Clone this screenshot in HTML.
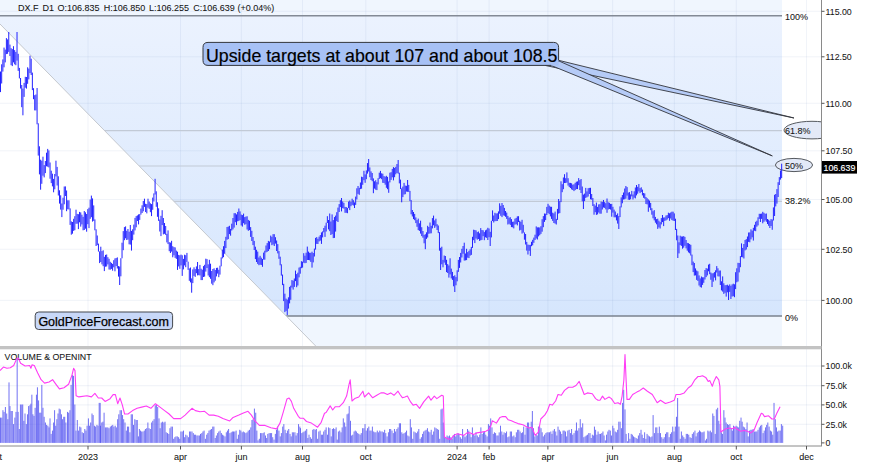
<!DOCTYPE html><html><head><meta charset="utf-8"><style>html,body{margin:0;padding:0;background:#fff;overflow:hidden}svg{display:block}text{font-family:"Liberation Sans",sans-serif}</style></head><body>
<svg width="875" height="465" viewBox="0 0 875 465">
<defs><linearGradient id="fib" x1="0" y1="16" x2="0" y2="316" gradientUnits="userSpaceOnUse"><stop offset="0" stop-color="#ebf2fe"/><stop offset="1" stop-color="#d6e6fd"/></linearGradient><clipPath id="diag"><polygon points="0,0 782,0 782,346 315.7,346 0,24.0"/></clipPath><clipPath id="plot"><rect x="0" y="0" width="821.5" height="346"/></clipPath></defs>
<rect x="0" y="0" width="875" height="465" fill="#fff"/>
<g clip-path="url(#diag)">
<rect x="0" y="0" width="782" height="16" fill="#f0f6fe"/>
<rect x="0" y="16" width="782" height="300" fill="url(#fib)"/>
<rect x="0" y="316" width="782" height="30" fill="#f0f6fe"/>
</g>
<line x1="0" y1="11.3" x2="821" y2="11.3" stroke="#2850a0" stroke-width="1" opacity="0.06"/>
<line x1="0" y1="56.8" x2="821" y2="56.8" stroke="#2850a0" stroke-width="1" opacity="0.06"/>
<line x1="0" y1="103.3" x2="821" y2="103.3" stroke="#2850a0" stroke-width="1" opacity="0.06"/>
<line x1="0" y1="150.8" x2="821" y2="150.8" stroke="#2850a0" stroke-width="1" opacity="0.06"/>
<line x1="0" y1="199.5" x2="821" y2="199.5" stroke="#2850a0" stroke-width="1" opacity="0.06"/>
<line x1="0" y1="249.3" x2="821" y2="249.3" stroke="#2850a0" stroke-width="1" opacity="0.06"/>
<line x1="0" y1="300.4" x2="821" y2="300.4" stroke="#2850a0" stroke-width="1" opacity="0.06"/>
<line x1="88.0" y1="0" x2="88.0" y2="346" stroke="#2850a0" stroke-width="1" opacity="0.06"/>
<line x1="88.0" y1="349" x2="88.0" y2="446" stroke="#2850a0" stroke-width="1" opacity="0.06"/>
<line x1="180.5" y1="0" x2="180.5" y2="346" stroke="#2850a0" stroke-width="1" opacity="0.06"/>
<line x1="180.5" y1="349" x2="180.5" y2="446" stroke="#2850a0" stroke-width="1" opacity="0.06"/>
<line x1="241.4" y1="0" x2="241.4" y2="346" stroke="#2850a0" stroke-width="1" opacity="0.06"/>
<line x1="241.4" y1="349" x2="241.4" y2="446" stroke="#2850a0" stroke-width="1" opacity="0.06"/>
<line x1="302.5" y1="0" x2="302.5" y2="346" stroke="#2850a0" stroke-width="1" opacity="0.06"/>
<line x1="302.5" y1="349" x2="302.5" y2="446" stroke="#2850a0" stroke-width="1" opacity="0.06"/>
<line x1="365.8" y1="0" x2="365.8" y2="346" stroke="#2850a0" stroke-width="1" opacity="0.06"/>
<line x1="365.8" y1="349" x2="365.8" y2="446" stroke="#2850a0" stroke-width="1" opacity="0.06"/>
<line x1="457.1" y1="0" x2="457.1" y2="346" stroke="#2850a0" stroke-width="1" opacity="0.06"/>
<line x1="457.1" y1="349" x2="457.1" y2="446" stroke="#2850a0" stroke-width="1" opacity="0.06"/>
<line x1="489.1" y1="0" x2="489.1" y2="346" stroke="#2850a0" stroke-width="1" opacity="0.06"/>
<line x1="489.1" y1="349" x2="489.1" y2="446" stroke="#2850a0" stroke-width="1" opacity="0.06"/>
<line x1="547.9" y1="0" x2="547.9" y2="346" stroke="#2850a0" stroke-width="1" opacity="0.06"/>
<line x1="547.9" y1="349" x2="547.9" y2="446" stroke="#2850a0" stroke-width="1" opacity="0.06"/>
<line x1="612.6" y1="0" x2="612.6" y2="346" stroke="#2850a0" stroke-width="1" opacity="0.06"/>
<line x1="612.6" y1="349" x2="612.6" y2="446" stroke="#2850a0" stroke-width="1" opacity="0.06"/>
<line x1="674.4" y1="0" x2="674.4" y2="346" stroke="#2850a0" stroke-width="1" opacity="0.06"/>
<line x1="674.4" y1="349" x2="674.4" y2="446" stroke="#2850a0" stroke-width="1" opacity="0.06"/>
<line x1="736.3" y1="0" x2="736.3" y2="346" stroke="#2850a0" stroke-width="1" opacity="0.06"/>
<line x1="736.3" y1="349" x2="736.3" y2="446" stroke="#2850a0" stroke-width="1" opacity="0.06"/>
<line x1="806.5" y1="0" x2="806.5" y2="346" stroke="#2850a0" stroke-width="1" opacity="0.06"/>
<line x1="806.5" y1="349" x2="806.5" y2="446" stroke="#2850a0" stroke-width="1" opacity="0.06"/>
<line x1="0" y1="15.8" x2="782" y2="15.8" stroke="#838a95" stroke-width="1.5" clip-path="url(#diag)"/>
<line x1="0" y1="130.6" x2="782" y2="130.6" stroke="#c2cad6" stroke-width="1.2" clip-path="url(#diag)"/>
<line x1="0" y1="166.0" x2="782" y2="166.0" stroke="#c2cad6" stroke-width="1.2" clip-path="url(#diag)"/>
<line x1="0" y1="201.4" x2="782" y2="201.4" stroke="#c2cad6" stroke-width="1.2" clip-path="url(#diag)"/>
<line x1="0" y1="316.0" x2="782" y2="316.0" stroke="#7a828e" stroke-width="1.6" clip-path="url(#diag)"/>
<line x1="0" y1="24.0" x2="315.7" y2="346" stroke="#c4c8ce" stroke-width="1"/>
<g clip-path="url(#plot)">
<ellipse cx="812" cy="130.1" rx="28" ry="8.8" fill="#e3e9f7" stroke="#55595f" stroke-width="1"/>
<ellipse cx="794" cy="165" rx="18.6" ry="6.6" fill="#e3e9f7" stroke="#55595f" stroke-width="1"/>
</g>
<text x="785" y="20.0" font-size="9" fill="#141414" stroke="#141414" stroke-width="0.06">100%</text>
<text x="785" y="133.6" font-size="9" fill="#141414" stroke="#141414" stroke-width="0.06">61.8%</text>
<text x="785" y="168.6" font-size="9" fill="#141414" stroke="#141414" stroke-width="0.06">50%</text>
<text x="785" y="204.2" font-size="9" fill="#141414" stroke="#141414" stroke-width="0.06">38.2%</text>
<text x="785" y="320.6" font-size="9" fill="#141414" stroke="#141414" stroke-width="0.06">0%</text>
<path d="M0.50 71.5V92.1M1.68 64.3V83.5M2.86 59.4V71.6M4.04 47.6V67.3M5.22 49.6V62.4M6.40 38.1V54.1M7.58 39.4V53.8M8.76 32.0V51.9M9.94 44.6V56.0M11.12 48.2V65.2M12.30 49.1V66.1M13.48 46.2V62.4M14.66 50.1V64.3M15.84 51.9V65.2M17.02 32.0V60.6M18.20 53.8V70.9M19.38 67.9V78.4M20.56 78.0V88.5M21.74 85.0V107.2M22.92 88.6V115.3M24.10 82.9V96.9M25.28 76.8V87.7M26.46 77.0V88.6M27.64 67.3V83.8M28.82 68.6V79.4M30.00 55.7V73.1M31.18 58.7V75.0M32.36 72.6V90.1M33.54 88.2V99.2M34.72 95.2V110.4M35.90 94.5V110.4M37.08 88.0V124.3M38.26 123.3V155.6M39.44 146.3V174.4M40.62 159.7V189.7M41.80 160.7V183.8M42.98 156.7V175.7M44.16 165.1V177.4M45.34 161.0V173.1M46.52 152.7V166.3M47.70 148.9V166.7M48.88 150.4V167.4M50.06 162.5V178.7M51.24 170.7V183.1M52.42 173.7V186.4M53.60 178.9V192.3M54.78 174.0V189.3M55.96 160.7V176.4M57.14 166.9V185.5M58.32 176.3V195.5M59.50 190.3V203.6M60.68 195.3V209.6M61.86 203.5V217.1M63.04 197.7V209.7M64.22 186.5V204.3M65.40 186.4V196.0M66.58 190.5V211.2M67.76 200.3V209.3M68.94 200.3V209.4M70.12 208.4V224.9M71.30 221.4V234.7M72.48 222.0V233.7M73.66 218.8V230.9M74.84 216.2V230.2M76.02 209.7V223.8M77.20 213.9V223.7M78.38 214.2V229.1M79.56 211.9V222.3M80.74 212.4V226.6M81.92 214.7V224.4M83.10 216.8V230.3M84.28 211.0V230.0M85.46 212.3V228.7M86.64 214.0V231.7M87.82 209.1V224.2M89.00 207.7V228.1M90.18 199.5V218.8M91.36 195.6V217.2M92.54 198.4V221.6M93.72 205.4V220.9M94.90 219.4V230.3M96.08 229.3V246.0M97.26 235.5V245.1M98.44 243.6V251.6M99.62 251.4V263.1M100.80 246.7V262.0M101.98 251.1V264.4M103.16 250.3V266.2M104.34 256.8V271.1M105.52 254.9V266.7M106.70 254.5V266.5M107.88 257.2V264.4M109.06 258.8V269.5M110.24 261.8V269.7M111.42 262.9V268.9M112.60 263.9V270.7M113.78 260.2V267.3M114.96 258.4V271.3M116.14 258.0V266.1M117.32 257.4V268.5M118.50 266.1V276.6M119.68 266.5V285.0M120.86 258.2V276.3M122.04 242.7V258.3M123.22 231.1V250.2M124.40 227.1V240.2M125.58 226.4V238.3M126.76 230.8V240.0M127.94 229.0V239.6M129.12 231.7V244.3M130.30 225.0V244.6M131.48 230.9V250.6M132.66 229.3V240.2M133.84 224.6V234.6M135.02 217.9V230.4M136.20 216.1V227.3M137.38 215.4V221.0M138.56 214.4V224.4M139.74 214.1V219.9M140.92 208.6V214.6M142.10 205.3V213.0M143.28 201.0V211.3M144.46 198.7V206.9M145.64 203.8V212.0M146.82 204.1V213.4M148.00 198.7V207.7M149.18 201.5V208.9M150.36 203.3V212.2M151.54 204.1V216.1M152.72 197.6V209.8M153.90 193.4V201.5M155.08 178.8V194.5M156.26 191.3V206.8M157.44 202.3V216.8M158.62 208.3V220.9M159.80 219.5V231.5M160.98 215.8V236.1M162.16 210.2V225.1M163.34 218.0V234.4M164.52 223.0V233.8M165.70 226.0V234.9M166.88 233.8V242.4M168.06 230.4V244.1M169.24 242.2V251.2M170.42 242.6V253.0M171.60 240.8V251.6M172.78 246.2V257.3M173.96 247.1V255.3M175.14 247.4V257.9M176.32 250.6V258.9M177.50 251.7V269.9M178.68 254.9V266.4M179.86 255.3V268.8M181.04 254.6V265.4M182.22 255.3V275.9M183.40 258.9V269.4M184.58 254.7V265.4M185.76 255.2V267.2M186.94 252.9V261.9M188.12 261.7V269.9M189.30 268.4V280.8M190.48 267.5V282.4M191.66 278.4V292.7M192.84 269.4V283.1M194.02 267.3V275.9M195.20 269.1V276.9M196.38 266.4V273.2M197.56 262.0V275.4M198.74 269.1V275.2M199.92 264.9V275.4M201.10 268.7V280.1M202.28 269.7V280.1M203.46 266.1V277.0M204.64 264.8V276.6M205.82 258.7V271.6M207.00 259.1V268.0M208.18 264.3V275.5M209.36 259.8V277.2M210.54 263.7V278.8M211.72 271.0V283.7M212.90 269.0V285.2M214.08 268.3V282.4M215.26 270.0V280.7M216.44 267.9V276.4M217.62 267.7V273.6M218.80 269.8V277.2M219.98 265.7V274.6M221.16 257.4V266.3M222.34 249.6V258.4M223.52 246.2V257.2M224.70 240.9V253.7M225.88 236.8V248.1M227.06 227.0V239.7M228.24 226.6V239.1M229.42 225.8V234.1M230.60 228.9V235.7M231.78 223.7V230.5M232.96 218.0V229.4M234.14 213.2V227.6M235.32 213.2V222.2M236.50 214.4V225.1M237.68 211.9V221.3M238.86 208.5V220.9M240.04 211.4V220.1M241.22 214.6V225.5M242.40 215.1V226.6M243.58 213.6V223.2M244.76 217.1V224.7M245.94 216.6V224.2M247.12 216.3V229.5M248.30 219.9V230.8M249.48 220.8V230.1M250.66 227.1V236.9M251.84 230.8V241.0M253.02 237.0V245.1M254.20 240.9V250.0M255.38 246.7V259.1M256.56 249.8V262.0M257.74 251.6V263.9M258.92 257.5V265.2M260.10 255.8V264.7M261.28 257.7V265.0M262.46 259.0V266.8M263.64 252.6V259.6M264.82 250.7V259.7M266.00 245.5V252.4M267.18 243.1V251.8M268.36 240.9V251.0M269.54 241.5V249.2M270.72 235.6V242.4M271.90 236.8V245.2M273.08 234.2V244.5M274.26 234.2V246.0M275.44 237.2V243.6M276.62 240.5V251.0M277.80 244.1V253.4M278.98 251.1V258.8M280.16 256.7V265.3M281.34 264.3V275.6M282.52 274.6V285.1M283.70 283.8V301.1M284.88 293.7V312.1M286.06 298.6V310.9M287.24 299.6V315.0M288.42 297.3V308.6M289.60 286.9V303.4M290.78 285.7V299.8M291.96 280.1V287.5M293.14 280.7V289.6M294.32 278.5V286.9M295.50 270.6V281.1M296.68 274.1V287.2M297.86 272.7V285.5M299.04 267.6V277.4M300.22 266.8V273.7M301.40 261.2V268.2M302.58 261.7V267.6M303.76 253.2V262.7M304.94 255.7V263.2M306.12 252.7V262.9M307.30 246.6V260.0M308.48 251.6V260.0M309.66 252.8V260.3M310.84 252.8V261.9M312.02 251.7V267.6M313.20 253.0V262.4M314.38 248.6V256.5M315.56 237.9V249.6M316.74 237.1V243.9M317.92 238.8V244.0M319.10 236.6V241.4M320.28 235.0V240.6M321.46 232.4V243.9M322.64 231.4V237.4M323.82 228.0V232.3M325.00 225.7V236.9M326.18 222.7V231.5M327.36 216.2V223.0M328.54 220.0V229.4M329.72 213.5V231.2M330.90 221.5V235.0M332.08 214.4V234.1M333.26 220.1V238.1M334.44 217.1V237.9M335.62 215.6V231.6M336.80 212.2V221.1M337.98 207.6V222.0M339.16 204.1V212.0M340.34 200.2V207.1M341.52 198.0V211.4M342.70 201.5V208.2M343.88 202.8V208.6M345.06 206.9V212.8M346.24 207.1V212.8M347.42 207.9V213.2M348.60 201.6V208.1M349.78 200.5V210.1M350.96 201.9V206.2M352.14 198.7V204.9M353.32 200.2V205.5M354.50 202.4V208.0M355.68 196.6V204.9M356.86 188.3V199.4M358.04 186.0V193.9M359.22 187.8V194.8M360.40 182.5V189.1M361.58 176.7V188.7M362.76 177.1V184.8M363.94 170.8V180.2M365.12 174.4V182.8M366.30 170.4V179.2M367.48 163.1V173.6M368.66 159.0V171.5M369.84 167.4V177.2M371.02 171.4V180.0M372.20 173.0V181.2M373.38 178.4V193.2M374.56 181.3V188.6M375.74 180.2V189.7M376.92 182.2V190.1M378.10 178.2V184.4M379.28 172.7V178.9M380.46 170.9V178.2M381.64 173.3V179.2M382.82 173.7V182.8M384.00 176.1V183.0M385.18 176.7V184.7M386.36 175.8V187.8M387.54 176.9V189.2M388.72 181.4V192.8M389.90 172.7V182.4M391.08 172.2V179.9M392.26 168.9V177.3M393.44 167.1V180.4M394.62 167.9V177.2M395.80 166.9V174.3M396.98 164.0V173.0M398.16 160.0V173.7M399.34 172.7V183.4M400.52 179.6V189.0M401.70 188.4V202.3M402.88 186.6V197.1M404.06 182.9V194.5M405.24 185.6V194.2M406.42 185.8V191.6M407.60 180.0V191.8M408.78 184.9V191.9M409.96 190.9V201.1M411.14 200.1V214.3M412.32 210.0V216.5M413.50 212.0V219.1M414.68 213.9V220.2M415.86 217.4V223.1M417.04 220.1V226.8M418.22 218.6V230.1M419.40 223.3V230.9M420.58 220.7V233.6M421.76 227.2V236.1M422.94 231.0V237.7M424.12 234.9V243.3M425.30 234.2V249.2M426.48 232.3V238.9M427.66 225.8V237.5M428.84 227.0V233.8M430.02 222.5V233.4M431.20 225.8V233.3M432.38 218.1V228.4M433.56 215.6V225.3M434.74 220.4V227.9M435.92 218.7V226.4M437.10 224.2V230.0M438.28 225.5V233.1M439.46 232.1V250.7M440.64 247.8V270.0M441.82 246.7V264.3M443.00 259.9V267.3M444.18 255.5V262.6M445.36 256.0V264.9M446.54 259.8V272.1M447.72 264.1V273.0M448.90 265.5V277.6M450.08 258.3V274.4M451.26 268.6V278.4M452.44 271.9V279.9M453.62 276.1V286.3M454.80 275.3V292.0M455.98 277.1V285.3M457.16 270.3V281.3M458.34 259.9V271.9M459.52 257.0V267.9M460.70 252.9V262.5M461.88 248.8V257.5M463.06 246.0V253.7M464.24 242.7V260.6M465.42 253.5V260.4M466.60 248.8V260.1M467.78 252.1V257.7M468.96 250.8V258.1M470.14 249.3V255.6M471.32 246.9V254.9M472.50 236.8V247.9M473.68 229.7V240.2M474.86 230.0V243.1M476.04 230.4V238.5M477.22 232.1V239.7M478.40 231.5V239.0M479.58 233.3V240.9M480.76 228.1V240.3M481.94 230.0V239.9M483.12 230.3V236.2M484.30 232.1V240.2M485.48 230.3V237.3M486.66 229.6V237.9M487.84 227.8V240.0M489.02 228.5V237.2M490.20 231.8V246.0M491.38 220.8V237.4M492.56 210.4V221.0M493.74 215.5V222.5M494.92 212.8V221.2M496.10 213.5V221.1M497.28 213.3V221.0M498.46 211.4V219.1M499.64 203.3V213.7M500.82 205.8V215.8M502.00 203.0V217.1M503.18 205.0V215.4M504.36 207.9V215.8M505.54 211.0V216.8M506.72 212.6V218.9M507.90 215.9V224.5M509.08 217.7V223.8M510.26 217.2V224.9M511.44 219.1V227.1M512.62 221.8V227.3M513.80 221.6V228.4M514.98 218.7V224.6M516.16 217.9V224.2M517.34 216.3V225.4M518.52 216.2V222.0M519.70 220.8V230.5M520.88 221.8V229.9M522.06 219.8V233.6M523.24 224.8V232.7M524.42 232.4V239.7M525.60 234.0V244.5M526.78 241.9V250.6M527.96 244.6V254.5M529.14 244.9V250.8M530.32 244.8V255.9M531.50 241.8V246.2M532.68 239.8V245.3M533.86 237.6V242.8M535.04 234.7V240.0M536.22 226.4V238.5M537.40 227.4V239.5M538.58 227.3V236.4M539.76 227.5V235.2M540.94 226.2V233.9M542.12 219.2V231.7M543.30 216.1V227.2M544.48 213.5V221.9M545.66 213.7V220.1M546.84 206.9V215.0M548.02 203.8V213.1M549.20 205.6V214.2M550.38 206.7V216.4M551.56 206.8V218.9M552.74 212.7V220.9M553.92 213.4V223.0M555.10 211.6V223.6M556.28 218.9V224.5M557.46 208.9V219.9M558.64 199.0V213.6M559.82 201.1V213.1M561.00 181.3V202.1M562.18 184.2V192.2M563.36 177.5V189.2M564.54 174.2V183.0M565.72 178.2V183.0M566.90 172.4V182.6M568.08 178.2V185.6M569.26 182.8V187.1M570.44 182.9V188.0M571.62 183.3V189.4M572.80 184.7V190.0M573.98 184.3V191.1M575.16 182.8V190.1M576.34 181.7V189.1M577.52 181.4V189.1M578.70 178.1V185.2M579.88 180.1V190.0M581.06 179.0V193.0M582.24 186.5V201.3M583.42 194.6V209.0M584.60 193.6V201.1M585.78 187.9V197.9M586.96 191.4V197.3M588.14 188.2V196.5M589.32 187.9V194.0M590.50 187.8V199.3M591.68 194.0V199.7M592.86 198.0V206.0M594.04 204.2V214.7M595.22 205.6V212.2M596.40 202.6V214.9M597.58 206.9V214.4M598.76 204.4V212.5M599.94 204.2V213.7M601.12 201.6V213.7M602.30 201.9V209.5M603.48 200.0V207.5M604.66 202.1V207.9M605.84 203.2V209.4M607.02 198.5V212.8M608.20 202.3V209.5M609.38 202.8V209.0M610.56 203.9V209.6M611.74 203.9V216.7M612.92 206.8V212.6M614.10 209.6V217.3M615.28 211.5V217.3M616.46 214.9V220.4M617.64 213.4V223.6M618.82 216.1V229.0M620.00 206.4V217.1M621.18 197.4V207.4M622.36 195.0V203.3M623.54 192.5V199.5M624.72 188.5V199.3M625.90 186.0V198.7M627.08 187.1V195.6M628.26 192.6V199.7M629.44 192.1V199.9M630.62 194.4V199.3M631.80 190.9V196.4M632.98 194.5V199.5M634.16 191.3V197.7M635.34 187.5V198.4M636.52 185.0V195.4M637.70 186.8V193.7M638.88 184.0V191.4M640.06 188.1V193.1M641.24 187.3V192.0M642.42 189.6V195.4M643.60 193.0V197.8M644.78 193.4V198.7M645.96 197.0V204.0M647.14 198.2V204.4M648.32 199.4V211.8M649.50 200.6V207.6M650.68 202.9V210.2M651.86 208.2V214.7M653.04 211.2V218.3M654.22 210.1V220.4M655.40 216.9V222.7M656.58 219.1V224.3M657.76 218.7V228.9M658.94 220.7V227.4M660.12 222.1V228.5M661.30 218.1V224.4M662.48 215.0V222.1M663.66 217.5V226.1M664.84 217.4V220.9M666.02 215.5V220.4M667.20 215.1V219.5M668.38 212.7V218.1M669.56 213.3V220.8M670.74 212.5V218.5M671.92 211.7V220.1M673.10 211.7V220.7M674.28 213.4V221.0M675.46 218.7V230.0M676.64 228.9V240.3M677.82 235.5V258.0M679.00 242.3V253.4M680.18 235.7V245.1M681.36 236.5V245.9M682.54 236.5V248.7M683.72 236.1V247.7M684.90 236.9V245.8M686.08 240.0V248.4M687.26 242.9V250.7M688.44 243.2V252.4M689.62 244.0V253.3M690.80 244.8V255.5M691.98 254.6V265.2M693.16 261.6V272.1M694.34 263.0V275.6M695.52 268.4V275.4M696.70 270.5V279.9M697.88 271.3V280.9M699.06 275.4V285.5M700.24 278.4V287.1M701.42 276.5V287.6M702.60 277.3V284.9M703.78 277.3V282.8M704.96 270.0V279.5M706.14 268.1V277.1M707.32 268.6V275.4M708.50 264.6V271.3M709.68 263.8V274.2M710.86 272.5V279.8M712.04 273.4V287.0M713.22 273.2V281.7M714.40 272.1V277.6M715.58 270.3V280.4M716.76 266.1V272.5M717.94 268.3V276.3M719.12 270.6V276.5M720.30 270.5V285.0M721.48 281.3V290.4M722.66 276.4V291.6M723.84 283.3V293.9M725.02 285.2V292.8M726.20 285.1V296.6M727.38 284.7V292.3M728.56 285.7V300.0M729.74 284.4V291.9M730.92 285.8V299.0M732.10 284.4V296.5M733.28 283.7V296.2M734.46 284.3V297.2M735.64 272.2V289.1M736.82 268.3V282.3M738.00 262.8V281.5M739.18 263.0V272.4M740.36 256.1V267.2M741.54 243.4V257.1M742.72 247.9V257.3M743.90 244.0V258.5M745.08 240.0V250.4M746.26 239.1V249.5M747.44 236.5V247.1M748.62 232.5V241.9M749.80 232.4V242.3M750.98 229.3V239.4M752.16 230.6V237.3M753.34 227.8V240.6M754.52 224.8V230.7M755.70 221.8V231.2M756.88 220.7V226.7M758.06 217.3V225.4M759.24 213.8V218.9M760.42 213.8V222.0M761.60 213.6V218.9M762.78 211.8V223.3M763.96 212.8V221.8M765.14 213.8V220.4M766.32 213.5V221.8M767.50 219.0V224.0M768.68 219.7V225.8M769.86 220.9V228.0M771.04 219.1V226.0M772.22 219.5V229.8M773.40 207.4V220.5M774.58 194.8V216.0M775.76 194.0V206.4M776.94 189.1V203.6M778.12 182.2V197.0M779.30 177.1V185.0M780.48 170.5V179.6M781.66 163.7V178.1" stroke="#2222ff" stroke-width="1.0" fill="none"/>
<text x="17.9" y="10.7" font-size="9" fill="#141414" stroke="#141414" stroke-width="0.06">DX.F</text>
<text x="42.4" y="10.7" font-size="9" fill="#141414" stroke="#141414" stroke-width="0.06">D1</text>
<text x="57.6" y="10.7" font-size="9" fill="#141414" stroke="#141414" stroke-width="0.06">O:106.835</text>
<text x="103.7" y="10.7" font-size="9" fill="#141414" stroke="#141414" stroke-width="0.06">H:106.850</text>
<text x="149" y="10.7" font-size="9" fill="#141414" stroke="#141414" stroke-width="0.06">L:106.255</text>
<text x="193.3" y="10.7" font-size="9" fill="#141414" stroke="#141414" stroke-width="0.06">C:106.639</text>
<text x="237.4" y="10.7" font-size="9" fill="#141414" stroke="#141414" stroke-width="0.06">(+0.04%)</text>
<polygon points="558.6,60.3 794,118 545,65.4" fill="#b5cbf7" stroke="#33363c" stroke-width="0.9"/>
<polygon points="559,61 772.3,155.9 551,65.4" fill="#b5cbf7" stroke="#33363c" stroke-width="0.9"/>
<path d="M208,42.4 H553.6 Q558.6,42.4 558.6,47.4 V65.4 H208 Q203,65.4 203,60.4 V47.4 Q203,42.4 208,42.4 Z" fill="#a7c1f5"/>
<path d="M551,65.4 H208 Q203,65.4 203,60.4 V47.4 Q203,42.4 208,42.4 H553.6 Q558.6,42.4 558.6,47.4 V60.3" fill="none" stroke="#33363c" stroke-width="1"/>
<text x="206" y="61.7" font-size="17.75" fill="#000" stroke="#000" stroke-width="0.18">Upside targets at about 107 and about 108.5</text>
<rect x="35.2" y="312" width="137.4" height="17.5" rx="3.5" fill="#c8d8f8" stroke="#45484e" stroke-width="1"/>
<text x="38.4" y="326.2" font-size="12.5" fill="#000" stroke="#000" stroke-width="0.25">GoldPriceForecast.com</text>
<rect x="822" y="0" width="53" height="465" fill="#fff"/>
<line x1="821.5" y1="0" x2="821.5" y2="446" stroke="#8a8a8a" stroke-width="1"/>
<line x1="821.5" y1="11.3" x2="824.5" y2="11.3" stroke="#555" stroke-width="1"/>
<text x="825.5" y="14.6" font-size="8.8" fill="#141414" stroke="#141414" stroke-width="0.06">115.00</text>
<line x1="821.5" y1="56.8" x2="824.5" y2="56.8" stroke="#555" stroke-width="1"/>
<text x="825.5" y="60.0" font-size="8.8" fill="#141414" stroke="#141414" stroke-width="0.06">112.50</text>
<line x1="821.5" y1="103.3" x2="824.5" y2="103.3" stroke="#555" stroke-width="1"/>
<text x="825.5" y="106.5" font-size="8.8" fill="#141414" stroke="#141414" stroke-width="0.06">110.00</text>
<line x1="821.5" y1="150.8" x2="824.5" y2="150.8" stroke="#555" stroke-width="1"/>
<text x="825.5" y="154.0" font-size="8.8" fill="#141414" stroke="#141414" stroke-width="0.06">107.50</text>
<line x1="821.5" y1="199.5" x2="824.5" y2="199.5" stroke="#555" stroke-width="1"/>
<text x="825.5" y="202.7" font-size="8.8" fill="#141414" stroke="#141414" stroke-width="0.06">105.00</text>
<line x1="821.5" y1="249.3" x2="824.5" y2="249.3" stroke="#555" stroke-width="1"/>
<text x="825.5" y="252.5" font-size="8.8" fill="#141414" stroke="#141414" stroke-width="0.06">102.50</text>
<line x1="821.5" y1="300.4" x2="824.5" y2="300.4" stroke="#555" stroke-width="1"/>
<text x="825.5" y="303.6" font-size="8.8" fill="#141414" stroke="#141414" stroke-width="0.06">100.00</text>
<rect x="822" y="161" width="35" height="12.6" fill="#000"/>
<text x="823.5" y="170.9" font-size="8.8" fill="#fff" stroke="#fff" stroke-width="0.15">106.639</text>
<rect x="0" y="346" width="821.5" height="3.3" fill="#c3c3c3"/>
<line x1="0" y1="366" x2="821" y2="366" stroke="#2850a0" stroke-width="1" opacity="0.07"/>
<line x1="0" y1="385.7" x2="821" y2="385.7" stroke="#2850a0" stroke-width="1" opacity="0.07"/>
<line x1="0" y1="404.9" x2="821" y2="404.9" stroke="#2850a0" stroke-width="1" opacity="0.07"/>
<line x1="0" y1="424.3" x2="821" y2="424.3" stroke="#2850a0" stroke-width="1" opacity="0.07"/>
<text x="4.6" y="360" font-size="8.8" fill="#141414" stroke="#141414" stroke-width="0.06">VOLUME &amp; OPENINT</text>
<path d="M0.50 442.9V417.6M1.81 442.9V417.6M2.95 442.9V410.2M4.09 442.9V411.9M5.40 442.9V407.0M6.71 442.9V413.5M7.85 442.9V419.2M9.00 442.9V382.4M9.98 442.9V406.1M11.12 442.9V411.0M12.26 442.9V411.0M13.57 442.9V424.1M14.88 442.9V417.6M16.02 442.9V411.9M17.17 442.9V357.9M18.15 442.9V411.9M19.29 442.9V429.0M20.43 442.9V404.5M21.74 442.9V404.5M22.72 442.9V404.5M23.87 442.9V420.8M25.01 442.9V413.5M26.32 442.9V424.1M27.46 442.9V414.3M28.60 442.9V406.1M29.91 442.9V405.3M30.89 442.9V403.7M31.87 442.9V394.7M32.85 442.9V414.3M34.00 442.9V415.9M35.14 442.9V407.8M36.45 442.9V394.7M37.43 442.9V387.3M38.57 442.9V400.4M39.72 442.9V412.7M40.86 442.9V412.7M41.84 442.9V384.9M42.98 442.9V407.8M44.13 442.9V416.8M45.43 442.9V422.5M46.58 442.9V424.9M47.89 442.9V425.7M49.03 442.9V427.4M50.01 442.9V418.4M51.15 442.9V433.9M52.46 442.9V430.6M53.60 442.9V422.5M54.58 442.9V410.2M55.73 442.9V425.7M56.87 442.9V419.2M58.02 442.9V413.5M59.16 442.9V408.6M60.30 442.9V409.4M61.45 442.9V414.3M62.59 442.9V419.2M63.74 442.9V416.8M64.72 442.9V416.8M65.86 442.9V422.5M67.49 442.9V411.9M68.64 442.9V412.7M69.94 442.9V410.2M71.09 442.9V384.9M72.40 442.9V375.1M73.54 442.9V375.9M74.85 442.9V404.5M75.99 442.9V430.6M77.30 442.9V420.0M78.60 442.9V430.6M79.75 442.9V426.6M80.89 442.9V427.4M82.20 442.9V432.3M83.51 442.9V433.1M84.81 442.9V429.0M85.96 442.9V430.6M87.10 442.9V425.7M88.41 442.9V418.4M89.55 442.9V425.7M90.70 442.9V422.5M92.00 442.9V413.5M93.15 442.9V415.1M94.45 442.9V425.7M95.60 442.9V426.6M96.91 442.9V424.9M98.05 442.9V425.7M99.19 442.9V402.9M100.17 442.9V402.9M100.50 442.9V425.7M101.81 442.9V422.5M102.95 442.9V421.7M104.09 442.9V412.7M105.40 442.9V427.4M106.71 442.9V427.4M107.85 442.9V427.4M109.00 442.9V428.2M110.30 442.9V426.6M111.45 442.9V425.7M112.75 442.9V424.9M113.90 442.9V426.6M115.21 442.9V425.7M116.35 442.9V427.4M117.66 442.9V419.2M118.80 442.9V414.3M120.11 442.9V410.2M121.42 442.9V410.2M122.56 442.9V415.1M123.70 442.9V419.2M125.01 442.9V422.5M126.32 442.9V430.6M127.46 442.9V426.6M128.60 442.9V426.6M129.91 442.9V432.3M131.22 442.9V414.3M132.36 442.9V414.3M133.51 442.9V424.9M134.81 442.9V419.2M136.12 442.9V420.0M137.26 442.9V420.0M138.41 442.9V436.4M139.39 442.9V429.0M140.53 442.9V430.6M141.68 442.9V431.5M142.98 442.9V431.5M144.29 442.9V430.6M145.43 442.9V429.0M146.74 442.9V428.2M147.89 442.9V422.5M149.03 442.9V428.2M150.34 442.9V429.0M151.64 442.9V422.5M152.79 442.9V420.8M154.09 442.9V419.2M155.24 442.9V405.3M156.38 442.9V404.5M157.69 442.9V407.0M159.00 442.9V418.4M160.14 442.9V428.2M161.28 442.9V422.5M162.59 442.9V421.7M163.90 442.9V422.5M165.04 442.9V421.7M166.19 442.9V432.3M167.49 442.9V433.1M168.80 442.9V433.9M169.94 442.9V428.2M171.09 442.9V426.6M172.40 442.9V426.6M173.70 442.9V438.8M174.85 442.9V437.2M175.99 442.9V436.4M177.30 442.9V436.4M178.60 442.9V437.2M179.75 442.9V438.8M180.89 442.9V431.5M182.20 442.9V431.5M183.51 442.9V430.6M184.65 442.9V437.2M185.79 442.9V434.7M187.10 442.9V435.5M188.41 442.9V437.2M189.55 442.9V431.5M190.70 442.9V431.5M192.00 442.9V431.5M193.31 442.9V433.1M194.45 442.9V434.7M195.60 442.9V434.7M196.91 442.9V435.5M198.05 442.9V435.5M199.36 442.9V435.5M200.50 442.9V433.9M201.81 442.9V433.1M202.95 442.9V431.5M204.09 442.9V430.6M205.40 442.9V438.8M206.71 442.9V434.7M207.85 442.9V433.1M209.00 442.9V430.6M210.30 442.9V429.8M211.45 442.9V429.0M212.75 442.9V426.6M213.90 442.9V426.6M215.21 442.9V438.0M216.35 442.9V435.5M217.66 442.9V433.1M218.80 442.9V431.5M220.11 442.9V430.6M221.42 442.9V433.1M222.56 442.9V434.7M223.70 442.9V435.5M225.01 442.9V436.4M226.32 442.9V432.3M227.46 442.9V430.6M228.60 442.9V429.0M229.91 442.9V433.1M231.22 442.9V432.3M232.36 442.9V431.5M233.51 442.9V431.5M234.81 442.9V431.5M236.12 442.9V430.6M237.26 442.9V438.8M238.41 442.9V434.7M239.72 442.9V429.8M240.86 442.9V430.6M242.17 442.9V432.3M243.31 442.9V431.5M244.62 442.9V432.3M245.92 442.9V433.1M247.07 442.9V432.3M248.21 442.9V430.6M249.52 442.9V429.8M250.83 442.9V427.4M251.97 442.9V420.0M253.11 442.9V419.2M254.42 442.9V408.6M255.73 442.9V412.7M256.87 442.9V430.6M258.02 442.9V440.4M259.32 442.9V438.8M260.47 442.9V433.1M261.77 442.9V433.1M263.08 442.9V433.1M264.23 442.9V432.3M265.53 442.9V435.5M266.68 442.9V438.0M267.82 442.9V433.9M269.13 442.9V433.1M270.43 442.9V433.1M271.58 442.9V433.1M272.72 442.9V437.2M274.03 442.9V439.6M275.34 442.9V433.9M276.48 442.9V429.8M277.62 442.9V426.6M278.93 442.9V430.6M280.24 442.9V436.4M281.38 442.9V433.1M282.69 442.9V426.6M283.83 442.9V424.1M285.14 442.9V429.8M286.28 442.9V433.1M287.43 442.9V430.6M288.74 442.9V429.0M290.04 442.9V433.9M291.19 442.9V436.4M292.33 442.9V432.3M293.64 442.9V432.3M294.94 442.9V432.3M296.09 442.9V435.5M297.23 442.9V433.1M298.54 442.9V424.1M299.85 442.9V426.6M300.50 442.9V428.2M301.81 442.9V433.1M302.95 442.9V432.3M304.09 442.9V431.5M305.40 442.9V430.6M306.71 442.9V429.0M307.85 442.9V438.0M309.00 442.9V434.7M310.30 442.9V437.2M311.45 442.9V438.8M312.75 442.9V429.8M313.90 442.9V429.0M315.21 442.9V429.8M316.35 442.9V429.0M317.66 442.9V438.8M318.80 442.9V431.5M320.11 442.9V430.6M321.42 442.9V434.7M322.56 442.9V434.7M323.70 442.9V431.5M325.01 442.9V429.8M326.15 442.9V427.4M327.46 442.9V434.7M328.60 442.9V427.4M329.91 442.9V428.2M331.22 442.9V436.4M332.36 442.9V429.0M333.51 442.9V428.2M334.81 442.9V429.0M336.12 442.9V427.4M337.26 442.9V439.6M338.41 442.9V431.5M339.72 442.9V430.6M341.02 442.9V432.3M342.17 442.9V427.4M343.31 442.9V418.4M344.62 442.9V422.5M345.76 442.9V426.6M347.07 442.9V414.3M348.21 442.9V413.5M349.19 442.9V406.1M350.50 442.9V420.8M351.64 442.9V435.5M352.79 442.9V434.7M354.09 442.9V431.5M355.24 442.9V430.6M356.38 442.9V431.5M357.69 442.9V433.1M358.83 442.9V433.9M360.14 442.9V434.7M361.28 442.9V433.1M362.59 442.9V428.2M363.90 442.9V428.2M365.04 442.9V424.1M366.19 442.9V430.6M367.49 442.9V428.2M368.80 442.9V426.6M369.94 442.9V430.6M371.09 442.9V430.6M372.40 442.9V426.6M373.70 442.9V431.5M374.85 442.9V432.3M375.99 442.9V432.3M377.30 442.9V430.6M378.60 442.9V432.3M379.75 442.9V430.6M380.89 442.9V431.5M382.20 442.9V431.5M383.51 442.9V432.3M384.65 442.9V429.8M385.79 442.9V433.1M387.10 442.9V436.4M388.41 442.9V432.3M389.55 442.9V429.0M390.70 442.9V429.0M392.00 442.9V430.6M393.31 442.9V433.1M394.45 442.9V429.0M395.60 442.9V431.5M396.91 442.9V429.0M398.05 442.9V427.4M399.36 442.9V423.3M400.50 442.9V423.3M401.81 442.9V432.3M402.95 442.9V433.9M404.09 442.9V433.1M405.40 442.9V432.3M406.55 442.9V430.6M407.85 442.9V435.5M409.00 442.9V436.4M410.30 442.9V419.2M411.45 442.9V427.4M412.75 442.9V438.8M413.90 442.9V431.5M415.21 442.9V432.3M416.35 442.9V433.1M417.66 442.9V431.5M418.80 442.9V429.0M420.11 442.9V438.8M421.42 442.9V437.2M422.56 442.9V433.9M423.70 442.9V431.5M425.01 442.9V430.6M426.15 442.9V429.8M427.46 442.9V428.2M428.60 442.9V431.5M429.91 442.9V432.3M431.22 442.9V429.8M432.36 442.9V434.7M433.67 442.9V431.5M434.81 442.9V427.4M436.12 442.9V428.2M437.26 442.9V429.0M438.41 442.9V429.8M439.72 442.9V438.8M441.02 442.9V409.4M442.17 442.9V408.6M443.31 442.9V422.5M444.62 442.9V437.2M445.92 442.9V438.0M447.07 442.9V435.5M448.21 442.9V436.4M449.52 442.9V435.5M450.83 442.9V437.2M451.97 442.9V438.8M453.11 442.9V435.5M454.42 442.9V433.9M455.73 442.9V436.4M456.87 442.9V434.7M458.02 442.9V433.1M459.00 442.9V433.9M460.30 442.9V437.2M461.28 442.9V438.8M462.59 442.9V429.0M463.90 442.9V435.5M465.04 442.9V437.2M466.19 442.9V435.5M467.49 442.9V429.0M468.80 442.9V430.6M469.94 442.9V433.9M471.09 442.9V437.2M472.40 442.9V427.4M473.70 442.9V434.7M474.85 442.9V435.5M475.99 442.9V432.3M477.30 442.9V435.5M478.60 442.9V437.2M479.75 442.9V434.7M480.89 442.9V427.4M482.20 442.9V433.9M483.51 442.9V432.3M484.65 442.9V431.5M485.79 442.9V434.7M487.10 442.9V436.4M488.41 442.9V424.1M489.55 442.9V425.7M490.70 442.9V418.4M492.00 442.9V427.4M493.31 442.9V433.9M494.45 442.9V432.3M495.60 442.9V433.1M496.91 442.9V435.5M498.05 442.9V435.5M499.20 442.9V432.4M500.50 442.9V425.7M501.81 442.9V431.5M502.95 442.9V434.7M504.09 442.9V432.3M505.40 442.9V433.1M506.55 442.9V431.5M507.85 442.9V437.2M509.00 442.9V436.4M510.30 442.9V431.5M511.45 442.9V431.5M512.75 442.9V436.4M513.90 442.9V435.5M515.21 442.9V437.2M516.35 442.9V432.3M517.66 442.9V429.8M518.80 442.9V429.8M520.11 442.9V431.5M521.42 442.9V433.1M522.56 442.9V432.3M523.70 442.9V426.6M525.01 442.9V434.7M526.15 442.9V427.4M527.46 442.9V422.5M528.60 442.9V422.5M529.91 442.9V427.4M531.22 442.9V421.7M532.36 442.9V411.0M533.51 442.9V428.2M534.81 442.9V436.4M536.12 442.9V434.7M537.26 442.9V435.5M538.41 442.9V426.6M539.72 442.9V426.6M541.02 442.9V428.2M542.17 442.9V432.3M543.31 442.9V436.4M544.62 442.9V434.7M545.92 442.9V433.1M547.07 442.9V432.3M548.21 442.9V432.3M549.52 442.9V432.3M550.83 442.9V431.5M551.97 442.9V433.9M553.11 442.9V430.6M554.42 442.9V429.0M555.73 442.9V431.5M556.87 442.9V435.5M558.02 442.9V426.6M559.32 442.9V429.8M560.47 442.9V431.5M561.77 442.9V433.9M563.08 442.9V430.6M564.23 442.9V430.6M565.53 442.9V431.5M566.68 442.9V436.4M567.82 442.9V430.6M569.13 442.9V429.8M570.43 442.9V433.1M571.58 442.9V429.0M572.72 442.9V434.7M574.03 442.9V433.1M575.34 442.9V430.6M576.48 442.9V422.5M577.62 442.9V430.6M578.93 442.9V428.2M580.24 442.9V419.2M581.38 442.9V427.4M582.69 442.9V423.3M583.83 442.9V437.2M585.14 442.9V436.4M586.28 442.9V435.5M587.43 442.9V434.7M588.74 442.9V433.1M590.04 442.9V433.1M591.19 442.9V438.0M592.33 442.9V434.7M593.64 442.9V435.5M594.45 442.9V426.6M595.60 442.9V429.8M596.91 442.9V434.7M598.05 442.9V431.5M599.20 442.9V433.9M600.50 442.9V433.9M601.81 442.9V433.1M602.95 442.9V431.5M604.09 442.9V435.5M605.40 442.9V440.4M606.55 442.9V434.7M607.85 442.9V431.5M609.00 442.9V429.8M610.30 442.9V430.6M611.45 442.9V435.5M612.75 442.9V425.7M613.90 442.9V428.2M615.21 442.9V431.5M616.35 442.9V432.3M617.66 442.9V429.8M618.80 442.9V421.7M620.11 442.9V421.7M621.42 442.9V428.2M622.56 442.9V402.9M623.70 442.9V389.8M625.01 442.9V409.4M626.15 442.9V433.9M627.46 442.9V441.3M628.60 442.9V433.1M629.91 442.9V438.8M631.22 442.9V433.9M632.36 442.9V434.7M633.51 442.9V436.4M634.81 442.9V437.2M636.12 442.9V438.0M637.26 442.9V438.8M638.41 442.9V435.5M639.72 442.9V433.1M641.02 442.9V429.8M642.17 442.9V434.7M643.31 442.9V438.0M644.62 442.9V432.3M645.92 442.9V438.8M647.07 442.9V433.9M648.21 442.9V435.5M649.52 442.9V436.4M650.83 442.9V437.2M651.97 442.9V436.4M653.11 442.9V415.1M654.42 442.9V433.1M655.73 442.9V427.4M656.87 442.9V427.4M658.02 442.9V433.1M659.32 442.9V426.6M660.47 442.9V433.1M661.77 442.9V437.2M663.08 442.9V438.8M664.23 442.9V437.2M665.53 442.9V433.9M666.68 442.9V432.3M667.82 442.9V432.3M669.13 442.9V437.2M670.43 442.9V433.9M671.58 442.9V432.3M672.72 442.9V426.6M674.03 442.9V431.5M675.34 442.9V426.6M676.48 442.9V416.8M677.62 442.9V398.0M678.93 442.9V426.6M680.24 442.9V438.8M681.38 442.9V431.5M682.69 442.9V435.5M683.83 442.9V437.2M685.14 442.9V438.8M686.28 442.9V433.9M687.43 442.9V433.9M688.74 442.9V434.7M690.04 442.9V437.2M691.19 442.9V438.0M692.33 442.9V433.9M693.64 442.9V432.3M694.94 442.9V430.6M696.09 442.9V436.4M697.23 442.9V433.1M698.30 442.9V431.9M699.50 442.9V430.4M700.50 442.9V431.5M701.81 442.9V432.3M702.95 442.9V432.3M704.09 442.9V431.5M705.40 442.9V440.4M706.55 442.9V438.8M707.85 442.9V430.6M709.00 442.9V431.5M710.30 442.9V430.6M711.45 442.9V432.3M712.75 442.9V413.5M713.90 442.9V415.9M715.21 442.9V433.9M716.35 442.9V409.4M717.66 442.9V407.8M718.80 442.9V420.8M720.11 442.9V424.1M721.42 442.9V432.3M722.56 442.9V433.9M723.87 442.9V410.2M725.01 442.9V417.6M726.15 442.9V422.5M727.46 442.9V424.1M728.60 442.9V424.9M729.91 442.9V424.1M731.22 442.9V428.2M732.36 442.9V430.6M733.51 442.9V425.7M734.81 442.9V426.6M736.12 442.9V425.7M737.26 442.9V426.6M738.41 442.9V427.4M739.72 442.9V420.8M741.02 442.9V417.6M742.17 442.9V421.7M743.31 442.9V426.6M744.62 442.9V427.4M745.92 442.9V429.0M747.07 442.9V422.5M748.21 442.9V436.4M749.52 442.9V430.6M750.83 442.9V429.8M751.97 442.9V429.8M753.11 442.9V429.0M754.42 442.9V431.5M755.73 442.9V431.5M756.87 442.9V431.5M758.02 442.9V429.8M759.32 442.9V427.4M760.47 442.9V425.7M761.77 442.9V424.9M763.08 442.9V433.1M764.23 442.9V430.6M765.53 442.9V427.4M766.68 442.9V424.9M767.82 442.9V422.5M769.13 442.9V426.6M770.43 442.9V430.6M771.58 442.9V431.5M772.72 442.9V434.7M774.03 442.9V402.9M775.34 442.9V419.2M776.48 442.9V427.4M777.62 442.9V431.5M778.93 442.9V430.6M780.24 442.9V430.6M781.38 442.9V424.1M782.69 442.9V425.7" stroke="#4c4cf0" stroke-width="0.8" fill="none"/>
<polyline points="0.0,370.6 3.4,367.1 6.9,368.3 10.3,367.8 13.7,365.5 16.5,359.1 18.3,358.0 20.6,363.3 25.1,366.0 29.7,365.5 30.9,368.3 32.0,364.9 34.3,365.5 37.7,372.9 41.1,379.7 44.6,383.1 49.1,382.0 52.6,379.7 56.0,384.3 59.4,388.9 64.0,387.7 68.6,384.3 72.0,375.1 73.6,368.3 75.0,370.6 76.1,395.7 78.9,396.9 86.9,395.7 91.4,396.9 94.9,393.4 98.3,398.0 101.7,398.0 105.1,401.4 109.7,399.1 113.1,394.6 115.4,394.6 117.7,403.7 120.0,398.0 122.3,404.9 124.6,414.0 128.0,414.0 132.6,410.6 137.1,408.3 141.7,407.1 146.3,406.0 150.9,408.3 155.4,403.7 160.0,407.1 164.6,410.6 169.1,414.0 173.7,418.6 180.6,418.6 185.1,415.1 188.6,411.7 192.0,408.3 195.4,410.6 200.0,411.7 204.6,411.3 209.1,415.1 213.7,415.1 218.3,416.3 222.9,418.6 229.7,420.9 233.1,417.4 238.9,415.1 243.4,412.9 248.0,411.3 251.4,415.1 254.9,420.9 259.4,425.4 265.1,425.4 270.9,427.7 276.6,428.9 280.0,423.1 283.4,411.7 286.9,399.1 289.1,398.0 291.4,401.4 293.7,408.3 298.3,416.3 300.0,418.2 303.3,418.2 306.5,421.5 311.4,423.1 317.6,427.2 321.2,422.3 324.5,413.3 326.1,412.5 330.2,405.9 332.7,410.0 335.1,406.8 339.2,406.8 343.3,402.7 346.6,396.1 349.0,384.7 350.2,379.8 352.0,401.0 354.7,398.6 358.8,397.0 362.9,391.2 364.5,397.0 368.6,392.9 372.7,397.8 376.8,395.3 380.9,392.9 384.2,392.9 387.4,394.5 390.7,392.9 394.0,395.3 398.0,391.2 400.0,394.5 402.5,397.8 404.9,397.0 407.4,396.1 410.6,401.9 413.1,405.1 416.3,404.3 419.6,408.4 423.7,401.9 428.6,396.1 431.0,400.2 434.3,396.1 436.8,398.6 441.7,395.3 443.3,396.1 444.4,437.0 447.4,438.6 450.7,439.4 453.9,435.4 457.2,433.7 460.5,434.5 463.7,435.4 467.0,432.9 470.3,432.9 473.5,434.5 476.8,432.9 481.7,432.1 485.8,431.3 489.1,429.6 491.5,423.9 492.3,420.7 496.4,423.1 500.0,417.4 502.5,416.6 505.7,416.6 508.2,419.8 511.4,420.7 514.7,422.3 518.0,423.6 522.9,424.7 526.1,426.4 528.6,428.0 531.9,427.2 535.1,435.4 538.4,432.1 540.8,419.0 544.9,414.9 547.4,410.8 549.8,404.3 552.3,405.1 555.6,401.0 558.0,394.5 561.3,395.3 564.5,390.4 568.6,387.2 572.7,387.2 576.0,385.5 579.2,381.4 581.7,388.0 584.2,394.5 587.4,392.9 592.3,393.7 595.6,398.6 598.0,400.2 600.0,400.2 602.5,396.1 604.9,399.4 609.0,397.0 611.4,398.6 614.7,403.5 618.0,402.7 620.4,404.3 622.1,396.1 623.9,379.8 625.0,354.6 626.1,379.8 627.0,399.4 629.4,399.4 632.7,394.5 636.8,392.1 640.0,390.4 643.3,388.0 647.4,391.2 652.3,394.5 657.2,402.7 660.5,400.2 665.4,403.5 670.3,401.9 674.3,400.2 676.0,394.5 680.1,394.5 684.2,392.9 688.2,388.0 691.5,385.5 694.8,379.8 698.0,376.5 700.0,376.5 702.5,375.7 705.7,377.4 708.2,381.4 709.8,380.6 712.3,386.3 713.9,381.4 716.3,376.5 718.8,379.8 719.9,386.3 720.9,432.1 722.9,430.5 726.1,428.8 729.4,428.0 732.7,428.8 734.3,427.2 737.6,429.6 740.8,431.3 744.1,430.5 747.4,431.3 750.7,432.9 753.9,430.5 757.2,422.3 761.3,413.3 762.9,414.1 764.5,416.6 768.6,415.8 771.9,419.0 774.3,419.0 776.8,413.3 780.1,406.8" fill="none" stroke="#ff3cf5" stroke-width="1.1" stroke-linejoin="round"/>
<line x1="0" y1="446" x2="822" y2="446" stroke="#8a8a8a" stroke-width="1"/>
<line x1="821.5" y1="366" x2="824.5" y2="366" stroke="#555" stroke-width="1"/>
<text x="825.5" y="369.2" font-size="8.8" fill="#141414" stroke="#141414" stroke-width="0.06">100.0k</text>
<line x1="821.5" y1="385.7" x2="824.5" y2="385.7" stroke="#555" stroke-width="1"/>
<text x="825.5" y="388.9" font-size="8.8" fill="#141414" stroke="#141414" stroke-width="0.06">75.0k</text>
<line x1="821.5" y1="404.9" x2="824.5" y2="404.9" stroke="#555" stroke-width="1"/>
<text x="825.5" y="408.1" font-size="8.8" fill="#141414" stroke="#141414" stroke-width="0.06">50.0k</text>
<line x1="821.5" y1="424.3" x2="824.5" y2="424.3" stroke="#555" stroke-width="1"/>
<text x="825.5" y="427.5" font-size="8.8" fill="#141414" stroke="#141414" stroke-width="0.06">25.0k</text>
<line x1="821.5" y1="442.9" x2="824.5" y2="442.9" stroke="#555" stroke-width="1"/>
<text x="825.5" y="446.1" font-size="8.8" fill="#141414" stroke="#141414" stroke-width="0.06">0</text>
<line x1="88.0" y1="446" x2="88.0" y2="449.5" stroke="#555" stroke-width="1"/>
<text x="88.0" y="460.4" font-size="9" fill="#141414" stroke="#141414" stroke-width="0.06" text-anchor="middle">2023</text>
<line x1="180.5" y1="446" x2="180.5" y2="449.5" stroke="#555" stroke-width="1"/>
<text x="180.5" y="460.4" font-size="9" fill="#141414" stroke="#141414" stroke-width="0.06" text-anchor="middle">apr</text>
<line x1="241.4" y1="446" x2="241.4" y2="449.5" stroke="#555" stroke-width="1"/>
<text x="241.4" y="460.4" font-size="9" fill="#141414" stroke="#141414" stroke-width="0.06" text-anchor="middle">jun</text>
<line x1="302.5" y1="446" x2="302.5" y2="449.5" stroke="#555" stroke-width="1"/>
<text x="302.5" y="460.4" font-size="9" fill="#141414" stroke="#141414" stroke-width="0.06" text-anchor="middle">aug</text>
<line x1="365.8" y1="446" x2="365.8" y2="449.5" stroke="#555" stroke-width="1"/>
<text x="365.8" y="460.4" font-size="9" fill="#141414" stroke="#141414" stroke-width="0.06" text-anchor="middle">oct</text>
<line x1="457.1" y1="446" x2="457.1" y2="449.5" stroke="#555" stroke-width="1"/>
<text x="457.1" y="460.4" font-size="9" fill="#141414" stroke="#141414" stroke-width="0.06" text-anchor="middle">2024</text>
<line x1="489.1" y1="446" x2="489.1" y2="449.5" stroke="#555" stroke-width="1"/>
<text x="489.1" y="460.4" font-size="9" fill="#141414" stroke="#141414" stroke-width="0.06" text-anchor="middle">feb</text>
<line x1="547.9" y1="446" x2="547.9" y2="449.5" stroke="#555" stroke-width="1"/>
<text x="547.9" y="460.4" font-size="9" fill="#141414" stroke="#141414" stroke-width="0.06" text-anchor="middle">apr</text>
<line x1="612.6" y1="446" x2="612.6" y2="449.5" stroke="#555" stroke-width="1"/>
<text x="612.6" y="460.4" font-size="9" fill="#141414" stroke="#141414" stroke-width="0.06" text-anchor="middle">jun</text>
<line x1="674.4" y1="446" x2="674.4" y2="449.5" stroke="#555" stroke-width="1"/>
<text x="674.4" y="460.4" font-size="9" fill="#141414" stroke="#141414" stroke-width="0.06" text-anchor="middle">aug</text>
<line x1="736.3" y1="446" x2="736.3" y2="449.5" stroke="#555" stroke-width="1"/>
<text x="736.3" y="460.4" font-size="9" fill="#141414" stroke="#141414" stroke-width="0.06" text-anchor="middle">oct</text>
<line x1="806.5" y1="446" x2="806.5" y2="449.5" stroke="#555" stroke-width="1"/>
<text x="806.5" y="460.4" font-size="9" fill="#141414" stroke="#141414" stroke-width="0.06" text-anchor="middle">dec</text>
<text x="-0.6" y="460.4" font-size="9" fill="#141414" stroke="#141414" stroke-width="0.06">t</text>
</svg></body></html>
